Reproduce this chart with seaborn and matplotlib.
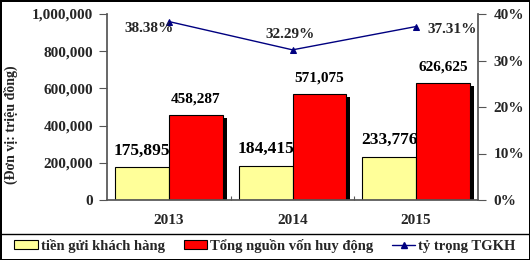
import matplotlib
matplotlib.use("Agg")
import matplotlib.pyplot as plt
import matplotlib.patheffects as pe
from matplotlib.patches import Patch
from matplotlib.lines import Line2D
from matplotlib.ticker import FuncFormatter, FixedLocator
import seaborn as sns
import pandas as pd

years = ["2013", "2014", "2015"]
deposits = [175895, 184415, 233776]
total_funds = [458287, 571075, 626625]
ratio = [38.38, 32.29, 37.31]
series_names = ["tiền gửi khách hàng", "Tổng nguồn vốn huy động", "tỷ trọng TGKH"]
y_label = "(Đơn vị: triệu đồng)"

sns.set_theme(style="white")
plt.rcParams["font.family"] = ["Liberation Serif", "DejaVu Serif"]
plt.rcParams["font.weight"] = "bold"

df = pd.DataFrame({
    "year": years * 2,
    "value": deposits + total_funds,
    "series": [series_names[0]] * 3 + [series_names[1]] * 3,
})
df_ratio = pd.DataFrame({"year": years, "ratio": ratio})

yellow = "#FFFF99"
red = "#FF0000"
navy = "#000080"

fig = plt.figure(figsize=(5.3, 2.6), dpi=100)
fig.patch.set_facecolor("white")
fig.patch.set_edgecolor("black")
fig.patch.set_linewidth(2)
ax = fig.add_axes([107 / 530, 1 - 200 / 260, (478 - 107) / 530, (200 - 14) / 260])

sns.barplot(data=df, x="year", y="value", hue="series",
            palette={series_names[0]: yellow, series_names[1]: red}, saturation=1,
            width=0.87, edgecolor="black", linewidth=0.8, ax=ax, legend=False)

# shadow on red bars
for p in ax.containers[1]:
    p.set_path_effects([pe.SimplePatchShadow(offset=(3, -2), shadow_rgbFace="black", alpha=1.0),
                        pe.Normal()])

ax.bar_label(ax.containers[0], labels=[f"{v:,}" for v in deposits], padding=6,
             fontsize=12.5, fontweight="bold", color="black")
ax.bar_label(ax.containers[1], labels=[f"{v:,}" for v in total_funds], padding=7,
             fontsize=11, fontweight="bold", color="black")

ax.set_ylim(0, 1000000)
ax.set_yticks(range(0, 1000001, 200000))
ax.yaxis.set_major_formatter(FuncFormatter(lambda v, p: f"{int(v):,}"))
ax.set_xlabel("")
ax.set_ylabel("")
for s in ["top", "right"]:
    ax.spines[s].set_visible(False)
ax.spines["left"].set_color("#555555")
ax.spines["bottom"].set_color("#555555")
ax.tick_params(axis="y", which="major", direction="out", length=6, width=0.8,
               color="#555555", left=True, labelsize=11, pad=4)
ax.tick_params(axis="x", which="major", length=0, labelsize=11, pad=10)
ax.xaxis.set_minor_locator(FixedLocator([0.5, 1.5]))
ax.tick_params(axis="x", which="minor", direction="in", length=3, width=0.8,
               color="#555555", bottom=True)
for lbl in ax.get_xticklabels() + ax.get_yticklabels():
    lbl.set_fontweight("bold")

ax2 = ax.twinx()
sns.pointplot(data=df_ratio, x="year", y="ratio", color=navy, markers="^",
              linestyles="-", errorbar=None, markersize=4, linewidth=1, ax=ax2)
ax2.set_ylim(0, 40)
ax2.set_yticks([0, 10, 20, 30, 40])
ax2.yaxis.set_major_formatter(FuncFormatter(lambda v, p: f"{int(v)}%"))
ax2.set_ylabel("")
ax2.set_xlabel("")
for s in ["top", "left", "bottom"]:
    ax2.spines[s].set_visible(False)
ax2.spines["right"].set_color("#555555")
ax2.tick_params(axis="y", direction="out", length=6, width=0.8, color="#555555",
                right=True, labelsize=11, pad=5)
for lbl in ax2.get_yticklabels():
    lbl.set_fontweight("bold")
ax.set_xlim(-0.5, 2.5)
ax2.set_xlim(-0.5, 2.5)

offsets = [(-14, -5), (-2, 11), (26, -2)]
for i, (r, off) in enumerate(zip(ratio, offsets)):
    ax2.annotate(f"{r:.2f}%", (i, r), xytext=off, textcoords="offset points",
                 ha="center", va="center", fontsize=11, fontweight="bold")

fig.text(11 / 530, 1 - 125 / 260, y_label, rotation=90, ha="center", va="center",
         fontsize=10, fontweight="bold")

# legend box
fig.add_artist(Line2D([0, 1], [1 - 234 / 260, 1 - 234 / 260], transform=fig.transFigure,
                      color="black", linewidth=1))
handles = [Patch(facecolor=yellow, edgecolor="black", linewidth=0.8),
           Patch(facecolor=red, edgecolor="black", linewidth=0.8),
           Line2D([], [], color=navy, marker="^", markersize=4, linewidth=1)]
fig.legend(handles, series_names, loc="center", bbox_to_anchor=(0.5, 1 - 246 / 260),
           ncol=3, frameon=False, prop={"size": 10.5, "weight": "bold"},
           handlelength=1.6, handleheight=0.6, handletextpad=0.2, columnspacing=1.3)

fig.savefig("out.png", dpi=100, facecolor="white", edgecolor="black")
